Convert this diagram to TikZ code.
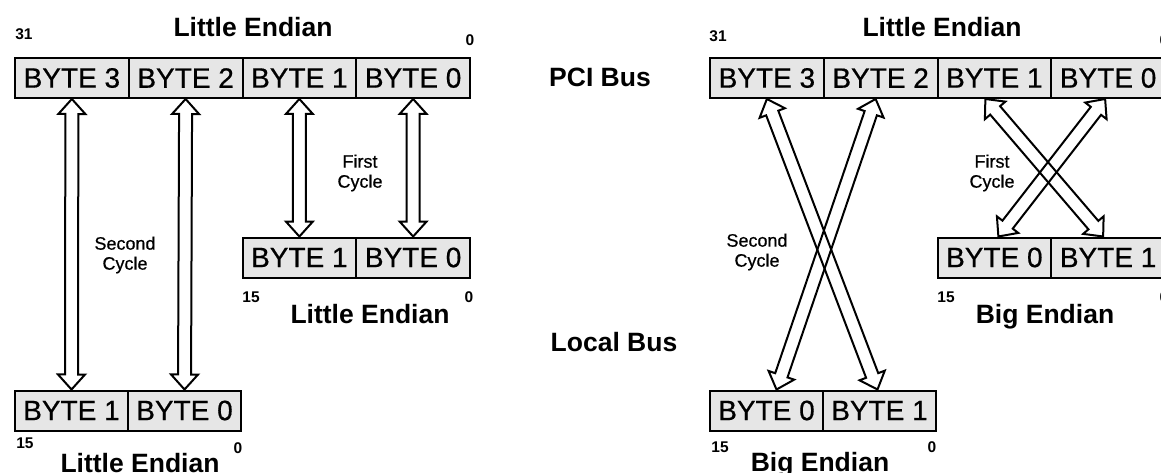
\documentclass[tikz,border=0pt]{standalone}
\usepackage{fontspec}
\setmainfont{Liberation Sans}
\newfontfamily\cellfont{Liberation Sans}[FakeBold=0.6]
\usetikzlibrary{calc}
\definecolor{cellgray}{RGB}{230,230,230}
\newcommand\hollowarrow[2]{%
 \draw[arrowline] (#1)
  -- ($(#1)!15pt!(#2)!13.5pt!90:(#2)$)
  -- ($(#1)!15pt!(#2)!6.5pt!90:(#2)$)
  -- ($(#2)!15pt!(#1)!6.5pt!-90:(#1)$)
  -- ($(#2)!15pt!(#1)!13.5pt!-90:(#1)$)
  -- (#2)
  -- ($(#2)!15pt!(#1)!13.5pt!90:(#1)$)
  -- ($(#2)!15pt!(#1)!6.5pt!90:(#1)$)
  -- ($(#1)!15pt!(#2)!6.5pt!-90:(#2)$)
  -- ($(#1)!15pt!(#2)!13.5pt!-90:(#2)$)
  -- cycle;}
\tikzset{
 cell/.style={draw, line width=2pt, fill=cellgray, minimum width=113.75pt, minimum height=40pt, inner sep=0pt, font=\cellfont\fontsize{28}{30}\selectfont},
 cellb/.style={cell, minimum width=113pt},
 title/.style={font=\bfseries\fontsize{26.5}{28}\selectfont, anchor=base, inner sep=0pt},
 bitnum/.style={font=\bfseries\fontsize{15.5}{16}\selectfont, anchor=base, inner sep=0pt},
 cyc/.style={font=\cellfont\fontsize{18}{20}\selectfont, align=center, inner sep=0pt},
 arrowline/.style={draw, line width=2pt, line join=miter}
}
\begin{document}
\begin{tikzpicture}[x=1pt,y=-1pt]
\useasboundingbox (0,0) rectangle (1161,473);
\clip (0,0) rectangle (1161,473);
% ---------- left half ----------
\node[title] (lt) at (253,37) {Little Endian};
\node[bitnum] (l31) at (24,40) {31};
\node[bitnum] (l0) at (470,46) {0};
\node[cell] (L3) at (71.875,78) {BYTE 3};
\node[cell] (L2) at (185.625,78) {BYTE 2};
\node[cell] (L1) at (299.375,78) {BYTE 1};
\node[cell] (L0) at (413.125,78) {BYTE 0};
\node[cell] (LM1) at (299.375,257.5) {BYTE 1};
\node[cell] (LM0) at (413.125,257.5) {BYTE 0};
\node[bitnum] (lm15) at (251,302) {15};
\node[bitnum] (lm0) at (469,302) {0};
\node[title] (lmt) at (370,323) {Little Endian};
\node[cellb] (LB1) at (71.5,410.5) {BYTE 1};
\node[cellb] (LB0) at (184.5,410.5) {BYTE 0};
\node[bitnum] (lb15) at (25,448) {15};
\node[bitnum] (lb0) at (238,453) {0};
\node[title] (lbt) at (140,472) {Little Endian};
\node[cyc] (lfc) at (360,173) {First\\Cycle};
\node[cyc] (lsc) at (125,255) {Second\\Cycle};
\hollowarrow{L3.south}{LB1.north}
\hollowarrow{L2.south}{LB0.north}
\hollowarrow{L1.south}{LM1.north}
\hollowarrow{L0.south}{LM0.north}
% ---------- right half ----------
\node[title] (pci) at (600,87) {PCI Bus};
\node[title] (loc) at (614,351) {Local Bus};
\node[title] (rt) at (942,37) {Little Endian};
\node[bitnum] (r31) at (718,42) {31};
\node[bitnum] (r0) at (1164,46) {0};
\node[cell] (R3) at (766.875,78) {BYTE 3};
\node[cell] (R2) at (880.625,78) {BYTE 2};
\node[cell] (R1) at (994.375,78) {BYTE 1};
\node[cell] (R0) at (1108.125,78) {BYTE 0};
\node[cell] (RM0) at (994.375,257.5) {BYTE 0};
\node[cell] (RM1) at (1108.125,257.5) {BYTE 1};
\node[bitnum] (rm15) at (946,302) {15};
\node[bitnum] (rm0) at (1164,302) {0};
\node[title] (rmt) at (1045,323) {Big Endian};
\node[cellb] (RB0) at (766.5,410.5) {BYTE 0};
\node[cellb] (RB1) at (879.5,410.5) {BYTE 1};
\node[bitnum] (rb15) at (720,452) {15};
\node[bitnum] (rb0) at (932,452) {0};
\node[title] (rbt) at (820,471) {Big Endian};
\node[cyc] (rfc) at (992,173) {First\\Cycle};
\node[cyc] (rsc) at (757,252) {Second\\Cycle};
\coordinate (a3) at (R3.south);
\coordinate (a2) at ([xshift=-5pt]R2.south);
\coordinate (a1) at ([xshift=-9pt]R1.south);
\coordinate (a0) at ([xshift=-3pt]R0.south);
\coordinate (b0) at ([xshift=10pt]RB0.north);
\coordinate (b1) at ([xshift=-2pt]RB1.north);
\coordinate (m0) at ([xshift=4pt]RM0.north);
\coordinate (m1) at ([xshift=-5pt]RM1.north);
\hollowarrow{a3}{b1}
\hollowarrow{a2}{b0}
\hollowarrow{a1}{m1}
\hollowarrow{a0}{m0}
\end{tikzpicture}
\end{document}
